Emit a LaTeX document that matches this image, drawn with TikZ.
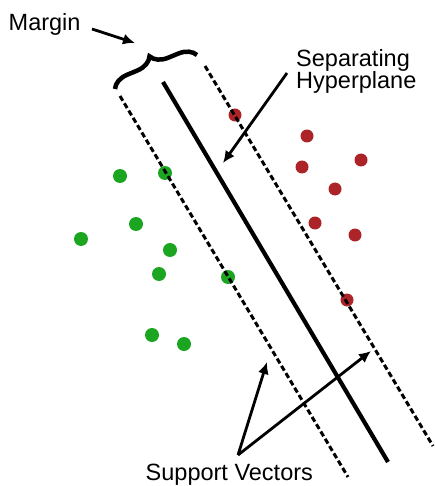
\documentclass[tikz,border=0pt]{standalone}
\usepackage{fontspec}
\setmainfont{Liberation Sans}
\usetikzlibrary{arrows.meta,decorations.pathreplacing}
\definecolor{ptgreen}{RGB}{28,165,32}
\definecolor{ptred}{RGB}{172,36,40}
\tikzset{
  lbl/.style={anchor=base west, inner sep=0pt, font=\fontsize{23.5}{27}\selectfont},
  gdot/.style={circle, fill=ptgreen, minimum size=14pt, inner sep=0pt},
  rdot/.style={circle, fill=ptred, minimum size=13pt, inner sep=0pt},
  marginline/.style={line width=3pt, dash pattern=on 5.5pt off 3pt},
  hyper/.style={line width=4.2pt},
  pointer/.style={line width=2.8pt, -{Latex[length=12pt,width=11pt]}},
}
\begin{document}
\begin{tikzpicture}[x=1pt,y=-1pt]
\useasboundingbox (0,0) rectangle (435,486);
% points
\node[gdot] (g1) at (120,176) {};
\node[gdot] (g2) at (165,173) {};
\node[gdot] (g3) at (136,224) {};
\node[gdot] (g4) at (81,239) {};
\node[gdot] (g5) at (170,250) {};
\node[gdot] (g6) at (159,274) {};
\node[gdot] (g7) at (228,277) {};
\node[gdot] (g8) at (152,335) {};
\node[gdot] (g9) at (184,344) {};
\node[rdot] (r1) at (235,115) {};
\node[rdot] (r2) at (307,136) {};
\node[rdot] (r3) at (361,160) {};
\node[rdot] (r4) at (302,167) {};
\node[rdot] (r5) at (335,189) {};
\node[rdot] (r6) at (315,223) {};
\node[rdot] (r7) at (355,235) {};
\node[rdot] (r8) at (347,300) {};
% lines
\coordinate (la) at (120,96);
\coordinate (lb) at (348,477);
\coordinate (sa) at (163,82);
\coordinate (sb) at (388,462);
\coordinate (ra) at (205,66);
\coordinate (rb) at (433,446);
\draw[marginline] (la) -- (lb);
\draw[hyper] (sa) -- (sb);
\draw[marginline] (ra) -- (rb);
% brace
\coordinate (ba) at (115,89);
\coordinate (bb) at (197,55);
\draw[line width=4.5pt, decorate, decoration={brace, amplitude=17pt}] (ba) -- (bb);
% labels
\node[lbl] (margin) at (8.5,31) {Margin};
\node[lbl] (sep1) at (296,66.5) {Separating};
\node[lbl] (sep2) at (296,88.5) {Hyperplane};
\node[lbl] (sv) at (145.5,480.5) {Support Vectors};
% arrows
\coordinate (m0) at (92,29);
\coordinate (m1) at (135,43);
\draw[pointer] (m0) -- (m1);
\coordinate (h0) at (287,73);
\coordinate (h1) at (223,163);
\draw[pointer] (h0) -- (h1);
\coordinate (s0) at (238,455);
\coordinate (s1) at (267,362);
\coordinate (s2) at (371,351);
\draw[pointer] (s0) -- (s1);
\draw[pointer] (s0) -- (s2);
\end{tikzpicture}
\end{document}
